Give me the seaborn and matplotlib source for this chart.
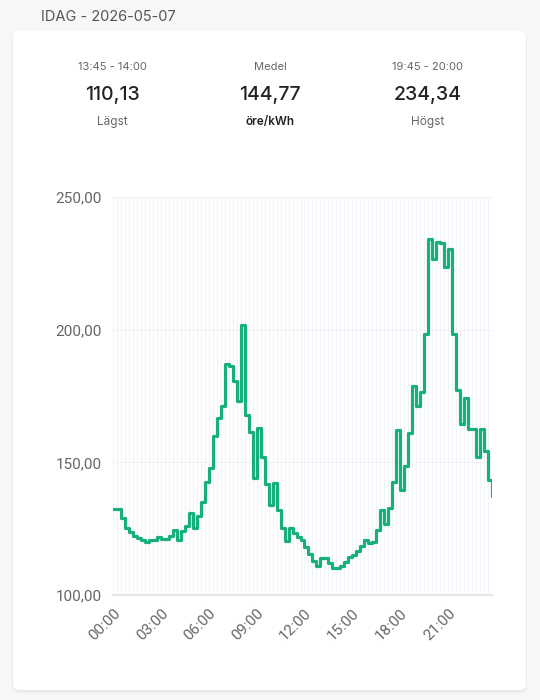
import numpy as np
import pandas as pd
import seaborn as sns
import matplotlib.pyplot as plt
from matplotlib.patches import FancyBboxPatch

# ---- data ----
prices = [
    132.3, 132.3, 128.9, 125.4, 123.9, 122.2, 121.6, 120.7, 120.0, 120.8,
    120.8, 121.9, 121.2, 121.0, 122.2, 124.5, 120.7, 124.1, 126.0, 130.8,
    125.1, 129.8, 135.2, 142.5, 147.8, 160.0, 166.6, 171.4, 187.0, 186.3,
    180.7, 173.2, 201.8, 167.9, 161.4, 144.1, 162.8, 151.9, 141.7, 133.8,
    142.2, 132.0, 125.1, 120.5, 125.3, 123.3, 121.8, 120.6, 118.2, 115.6,
    112.9, 111.0, 114.0, 113.8, 111.9, 110.13, 110.3, 110.9, 112.5, 114.2,
    115.0, 116.7, 118.3, 120.8, 119.6, 120.0, 124.5, 132.0, 126.6, 132.7,
    142.7, 162.2, 139.7, 148.7, 161.0, 178.8, 171.2, 176.6, 198.3, 234.34,
    226.5, 233.2, 232.7, 223.8, 230.4, 198.3, 177.3, 164.5, 174.4, 162.4,
    162.4, 152.1, 162.4, 154.3, 143.4, 137.5,
]
slots = [f"{h:02d}:{m:02d}" for h in range(24) for m in (0, 15, 30, 45)]
x_tick_labels = ["00:00", "03:00", "06:00", "09:00", "12:00", "15:00", "18:00", "21:00"]
y_ticks = [100, 150, 200, 250]
y_tick_labels = ["100,00", "150,00", "200,00", "250,00"]

title = "IDAG - 2026-05-07"
stat_tops = ["13:45 - 14:00", "Medel", "19:45 - 20:00"]
stat_values = ["110,13", "144,77", "234,34"]
stat_bottoms = ["Lägst", "öre/kWh", "Högst"]

# ---- figure ----
sns.set_theme(style="white")
plt.rcParams["font.family"] = ["Inter", "DejaVu Sans"]

W, H = 540, 700
fig = plt.figure(figsize=(W / 100, H / 100), dpi=100, facecolor="#f7f7f7")

def px(v):
    return v / 100.0

for off, col in [(3, "#efefef"), (1.5, "#e8e8e8")]:
    sh = FancyBboxPatch((px(13 - off * 0.3), px(H - 690 - off)), px(513 + off * 0.6), px(659 + off * 0.6),
                        boxstyle="round,pad=0,rounding_size=0.06", transform=fig.dpi_scale_trans,
                        facecolor=col, edgecolor="none", zorder=-3)
    fig.add_artist(sh)
card = FancyBboxPatch((px(13), px(H - 690)), px(513), px(659),
                      boxstyle="round,pad=0,rounding_size=0.06", transform=fig.dpi_scale_trans,
                      facecolor="white", edgecolor="none", zorder=-2)
fig.add_artist(card)

fig.text(41 / W, 1 - 17 / H, title, ha="left", va="center", fontsize=10.5, color="#555555")

col_x = [112.5, 270, 427.5]
for i, cx in enumerate(col_x):
    fig.text(cx / W, 1 - 67.5 / H, stat_tops[i], ha="center", va="center", fontsize=8, color="#666666")
    fig.text(cx / W, 1 - 95.5 / H, stat_values[i], ha="center", va="center", fontsize=14,
             color="#222222", fontweight="medium")
    fig.text(cx / W, 1 - 122 / H, stat_bottoms[i], ha="center", va="center", fontsize=8.5,
             color="#222222" if i == 1 else "#666666", fontweight="semibold" if i == 1 else "normal")

# ---- chart ----
left, right, top, bottom = 113, 492, 197, 595
ax = fig.add_axes([left / W, 1 - bottom / H, (right - left) / W, (bottom - top) / H])
ax.set_facecolor("none")

df = pd.DataFrame({"idx": np.arange(len(prices)), "slot": slots, "price": prices})
sns.lineplot(data=df, x="idx", y="price", ax=ax, color="#17b07b", linewidth=2.3,
             drawstyle="steps-post", zorder=3)

ax.set_xlim(0, len(prices) - 1)
ax.set_ylim(100, 250)
ax.set_xlabel("")
ax.set_ylabel("")

ax.set_xticks(df["idx"])
labels = []
for s in df["slot"]:
    labels.append(s if s in x_tick_labels else "")
ax.set_xticklabels(labels, rotation=45, ha="right", rotation_mode="anchor",
                   fontsize=11, color="#666666", fontfamily=["Roboto", "DejaVu Sans"])
ax.set_yticks(y_ticks)
ax.set_yticklabels(y_tick_labels, fontsize=11, color="#666666", fontfamily=["Roboto", "DejaVu Sans"])

ax.grid(axis="x", color="#f0f3f8", linewidth=0.8)
ax.grid(axis="y", color="#f1f2f4", linewidth=0.8)
for s in ["top", "right", "left"]:
    ax.spines[s].set_visible(False)
ax.spines["bottom"].set_color("#e4e6ea")
ax.spines["bottom"].set_linewidth(1.6)
ax.tick_params(axis="x", length=5, width=0.8, color="#e4e6ea", pad=3)
ax.tick_params(axis="y", length=0, pad=8)

fig.savefig("out.png", dpi=100, facecolor=fig.get_facecolor())
